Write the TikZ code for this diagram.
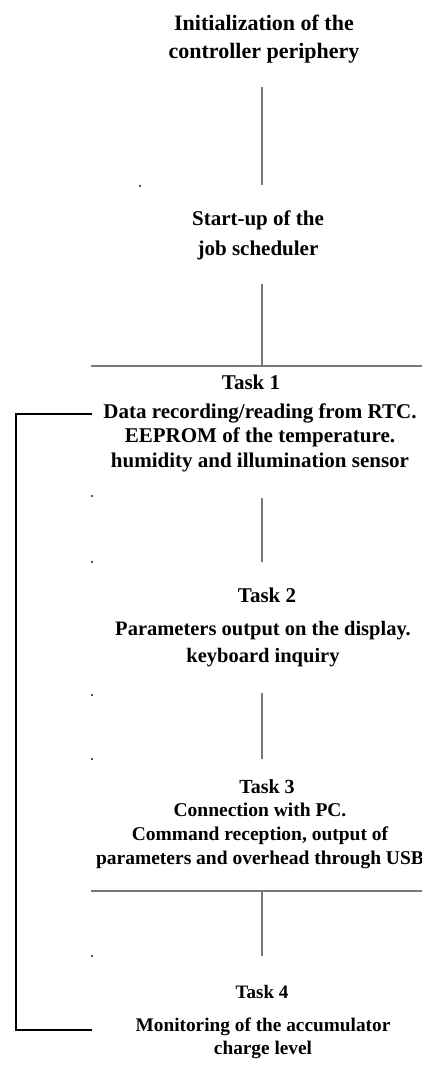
\documentclass[tikz,border=0pt]{standalone}
\usepackage{fontspec}
\setmainfont{Liberation Serif}
\definecolor{linegray}{HTML}{787878}
\definecolor{dotgray}{HTML}{555555}
\begin{document}
\begin{tikzpicture}[x=1pt,y=-1pt,
  lbl/.style n args={2}{inner sep=0pt, align=center, font=\fontsize{#1}{#2}\selectfont\bfseries},
  conn/.style={draw=linegray, line width=2.5pt},
  loopline/.style={draw=black, line width=2.3pt},
  tick/.style={fill=dotgray}]
\useasboundingbox (0,0) rectangle (422,1084);

% texts
\node[lbl={22}{28}] (init) at (264,39) {Initialization of the\\controller periphery};
\node[lbl={21}{30}] (start) at (258,235) {Start-up of the\\job scheduler};
\node[lbl={21}{25}] (t1h) at (251,382) {Task 1};
\node[lbl={21}{24.5}] (t1) at (260,437.5) {Data recording/reading from RTC.\\EEPROM of the temperature.\\humidity and illumination sensor};
\node[lbl={21}{25}] (t2h) at (267,595) {Task 2};
\node[lbl={20.5}{27}] (t2) at (263,644.5) {Parameters output on the display.\\keyboard inquiry};
\node[lbl={20}{24}] (t3h) at (267,787) {Task 3};
\node[lbl={19.5}{24}] (t3) at (260,836) {Connection with PC.\\Command reception, output of\\parameters and overhead through USB};
\node[lbl={19}{23}] (t4h) at (262,992) {Task 4};
\node[lbl={19.3}{23}] (t4) at (263,1038.5) {Monitoring of the accumulator\\charge level};

% connector end points
\coordinate (v1a) at (262,87);   \coordinate (v1b) at (262,185);
\coordinate (v2a) at (262,284);  \coordinate (v2b) at (262,366);
\coordinate (h1a) at (91,366);   \coordinate (h1b) at (423,366);
\coordinate (v3a) at (262,498);  \coordinate (v3b) at (262,562);
\coordinate (v4a) at (262,693);  \coordinate (v4b) at (262,759);
\coordinate (h2a) at (91,891);   \coordinate (h2b) at (423,891);
\coordinate (v5a) at (262,891);  \coordinate (v5b) at (262,956);
\coordinate (lpa) at (92,414);   \coordinate (lpb) at (16,414);
\coordinate (lpc) at (16,1030);  \coordinate (lpd) at (92,1030);

\draw[conn] (v1a) -- (v1b);
\draw[conn] (v2a) -- (v2b);
\draw[conn] (h1a) -- (h1b);
\draw[conn] (v3a) -- (v3b);
\draw[conn] (v4a) -- (v4b);
\draw[conn] (h2a) -- (h2b);
\draw[conn] (v5a) -- (v5b);
\draw[loopline, line join=miter] (lpa) -- (lpb) -- (lpc) -- (lpd);

% small marks
\foreach \p in {(140,186),(92,496),(92,562),(92,695),(92,759),(92,956)}
  \fill[tick] \p +(-1.2,-1.2) rectangle +(1.2,1.2);
\end{tikzpicture}
\end{document}
